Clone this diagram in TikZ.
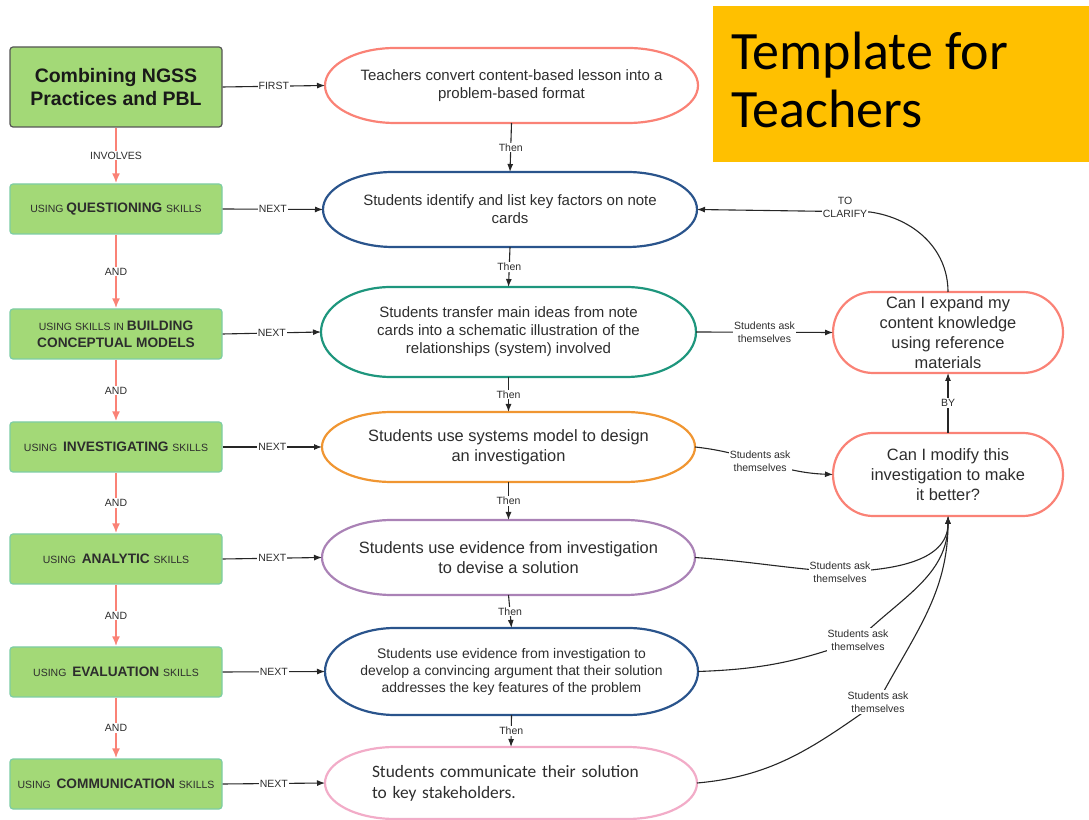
\documentclass[tikz,border=0pt]{standalone}
\usepackage{fontspec}
\setmainfont{Liberation Sans}
\newfontfamily\calibri{Carlito}
\usetikzlibrary{arrows.meta,calc}

\definecolor{gfill}{RGB}{163,217,119}
\definecolor{gedge}{RGB}{125,205,165}
\definecolor{gdark}{RGB}{85,85,85}
\definecolor{csalmon}{RGB}{250,130,118}
\definecolor{cnavy}{RGB}{42,84,140}
\definecolor{cteal}{RGB}{30,150,125}
\definecolor{corange}{RGB}{240,150,50}
\definecolor{cpurple}{RGB}{170,130,182}
\definecolor{cpink}{RGB}{242,172,200}
\definecolor{cgold}{RGB}{255,192,0}
\definecolor{ctext}{RGB}{45,45,45}

% small caps-like words and bold keywords inside the green boxes
\newcommand\smword{\fontsize{10.5}{17}\selectfont\mdseries}
\newcommand\kwword{\fontsize{13.7}{17}\selectfont\bfseries}

% outline of a pill shape with elliptical ends, drawn around a named node
\newcommand\pillpath[3][70]{%
  \draw[#3, line width=2.2pt] let \p1=(#2.north west), \p2=(#2.south east), \n1={(\y1-\y2)/2} in
    (\x1+#1pt,\y1) -- (\x2-#1pt,\y1)
    arc[start angle=90, end angle=-90, x radius=#1pt, y radius=\n1]
    -- (\x1+#1pt,\y2)
    arc[start angle=270, end angle=90, x radius=#1pt, y radius=\n1] -- cycle;}

\tikzset{
  gbox/.style={draw=gedge, fill=gfill, rounded corners=3pt, line width=1.2pt,
    minimum width=212pt, minimum height=50pt, inner sep=1pt, align=center, text=ctext,
    font=\fontsize{13.7}{17}\selectfont},
  pn/.style={minimum width=374pt, minimum height=75pt, inner sep=0pt, outer sep=0pt,
    align=center, text=ctext, font=\fontsize{15}{18}\selectfont},
  rpn/.style={minimum width=230pt, minimum height=81pt, inner sep=0pt, outer sep=0pt,
    align=center, text=ctext, font=\fontsize{16.4}{20}\selectfont},
  lab/.style={fill=white, inner sep=1pt, text=ctext, font=\fontsize{10.5}{13}\selectfont},
  asklab/.style={lab, align=center, font=\fontsize{10.5}{13.5}\selectfont},
  arr/.style={-{Latex[length=8pt,width=6pt]}, line width=1.1pt, black!85},
  parr/.style={-{Latex[length=10pt,width=8pt]}, line width=2pt, csalmon},
}

\begin{document}
\begin{tikzpicture}[x=1pt, y=1pt]
\useasboundingbox (0,0) rectangle (1089,819);

% title block
\node[fill=cgold, minimum width=376pt, minimum height=156pt, inner sep=0pt, anchor=north west] (tmpl) at (713,813) {};
\node[anchor=base west, inner sep=0pt, align=left, text=black,
      font=\calibri\fontsize{54}{58}\selectfont] (ttl) at (731,691) {Template for\\Teachers};

% practice boxes
\node[gbox, draw=gdark, minimum height=80pt, font=\fontsize{19.5}{22.5}\selectfont\bfseries, text=black!90] (B0) at (116,732) {Combining NGSS\\Practices and PBL};
\node[gbox] (B1) at (116,610) {\smword USING \kwword QUESTIONING \smword SKILLS};
\node[gbox] (B2) at (116,485) {\smword USING SKILLS IN \kwword BUILDING\\\kwword CONCEPTUAL MODELS};
\node[gbox] (B3) at (116,372) {\smword USING\ \ \kwword INVESTIGATING \smword SKILLS};
\node[gbox] (B4) at (116,260) {\smword USING\ \ \kwword ANALYTIC \smword SKILLS};
\node[gbox] (B5) at (116,147) {\smword USING\ \ \kwword EVALUATION \smword SKILLS};
\node[gbox] (B6) at (116,35)  {\smword USING\ \ \kwword COMMUNICATION \smword SKILLS};

% activity pills
\node[pn, minimum width=373pt] (E0) at (511.5,733.5) {Teachers convert content-based lesson into a\\problem-based format};
\node[pn] (E1) at (510,609.5) {Students identify and list key factors on note\\cards};
\node[pn, minimum width=375pt, minimum height=90pt] (E2) at (508.5,487) {Students transfer main ideas from note\\cards into a schematic illustration of the\\relationships (system) involved};
\node[pn, minimum width=373pt, minimum height=70pt, font=\fontsize{16.4}{20}\selectfont] (E3) at (508.5,372) {Students use systems model to design\\an investigation};
\node[pn, minimum width=373pt, font=\fontsize{16.4}{20}\selectfont] (E4) at (508.5,261.5) {Students use evidence from investigation\\to devise a solution};
\node[pn, minimum width=373pt, minimum height=87pt, font=\fontsize{13.9}{17}\selectfont] (E5) at (511.5,147.5) {Students use evidence from investigation to\\develop a convincing argument that their solution\\addresses the key features of the problem};
\node[pn, minimum width=372pt, minimum height=72pt, text width=278pt, align=left, font=\calibri\fontsize{17.4}{21}\selectfont] (E6) at (511,36) {Students communicate their solution\\to key stakeholders.};

\pillpath{E0}{csalmon}
\pillpath{E1}{cnavy}
\pillpath{E2}{cteal}
\pillpath{E3}{corange}
\pillpath{E4}{cpurple}
\pillpath{E5}{cnavy}
\pillpath{E6}{cpink}

% reflection questions
\node[rpn] (R1) at (948,486.5) {Can I expand my\\content knowledge\\using reference\\materials};
\node[rpn, minimum height=83pt] (R2) at (948,344.5) {Can I modify this\\investigation to make\\it better?};
\pillpath[40]{R1}{csalmon}
\pillpath[40]{R2}{csalmon}

% chain of practices
\draw[parr] (B0) -- node[lab]{INVOLVES} (B1);
\draw[parr] (B1) -- node[lab]{AND} (B2);
\draw[parr] (B2) -- node[lab]{AND} (B3);
\draw[parr] (B3) -- node[lab]{AND} (B4);
\draw[parr] (B4) -- node[lab]{AND} (B5);
\draw[parr] (B5) -- node[lab]{AND} (B6);

% practice to activity
\draw[arr] (B0.east) -- node[lab]{FIRST} (E0.west);
\draw[arr] (B1.east) -- node[lab]{NEXT} (E1.west);
\draw[arr] (B2.east) -- node[lab]{NEXT} (E2.west);
\draw[arr] (B3.east) -- node[lab]{NEXT} (E3.west);
\draw[arr] (B4.east) -- node[lab]{NEXT} (E4.west);
\draw[arr] (B5.east) -- node[lab]{NEXT} (E5.west);
\draw[arr] (B6.east) -- node[lab]{NEXT} (E6.west);

% sequence of activities
\draw[arr] (E0.south) -- node[lab]{Then} (E1.north);
\draw[arr] (E1.south) -- node[lab]{Then} (E2.north);
\draw[arr] (E2.south) -- node[lab]{Then} (E3.north);
\draw[arr] (E3.south) -- node[lab]{Then} (E4.north);
\draw[arr] (E4.south) -- node[lab]{Then} (E5.north);
\draw[arr] (E5.south) -- node[lab]{Then} (E6.north);

% questions students ask themselves
\draw[arr] (E2.east) -- node[asklab]{Students ask\\themselves} (R1.west);
\draw[arr] (E3.east) to[out=-6, in=178] node[asklab, pos=0.47]{Students ask\\themselves} (R2.west);

\coordinate (L4) at (840,247);
\coordinate (L5) at (858,179);
\coordinate (L6) at (878,117);
\draw[arr] (E4.east) to[out=-4, in=176] (L4) to[out=2, in=-90] (R2.south);
\draw[arr] (E5.east) to[out=2, in=200] (L5) to[out=45, in=-90] (R2.south);
\draw[arr] (E6.east) to[out=5, in=-145] (L6) to[out=62, in=-90] (R2.south);
\node[asklab] (Q4) at (L4) {Students ask\\themselves};
\node[asklab] (Q5) at (L5) {Students ask\\themselves};
\node[asklab] (Q6) at (L6) {Students ask\\themselves};

\draw[arr] (R2.north) -- node[lab]{BY} (R1.south);

\coordinate (tc) at (870,607);
\draw[arr] (R1.north) to[out=90, in=-8] (tc) -- (E1.east);
\node[lab, align=center, font=\fontsize{10.5}{13}\selectfont] (TC) at (845,612) {TO\\CLARIFY};
\end{tikzpicture}
\end{document}
